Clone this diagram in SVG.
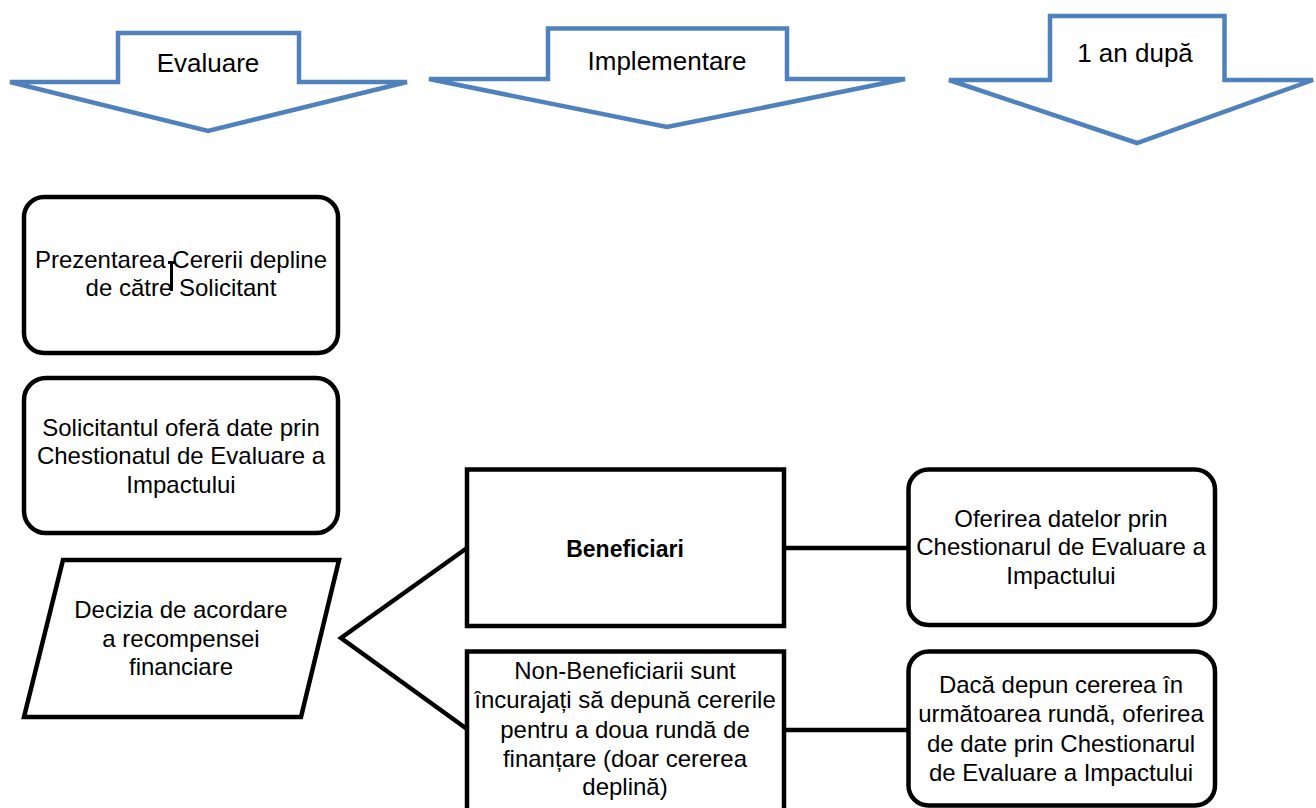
<svg xmlns="http://www.w3.org/2000/svg" width="1316" height="808" viewBox="0 0 1316 808">
<style>
.arrow{fill:#fff;stroke:#4F81BD;stroke-width:4.5;stroke-linejoin:miter}
.box{fill:#fff;stroke:#000;stroke-width:4.5}
.conn{fill:none;stroke:#000;stroke-width:4.5}
text{font-family:"Liberation Sans",Arial,sans-serif;fill:#000;text-anchor:middle}
.lbl{font-size:26px}
.t{font-size:24px}
.b{font-size:23px;font-weight:bold}
</style>
<rect width="1316" height="808" fill="#fff"/>
<g id="arrow-evaluare">
<path class="arrow" d="M118,33 H299 V82 H407 L208,131 L10,82 H118 Z"/>
<text class="lbl" x="208" y="72">Evaluare</text>
</g>
<g id="arrow-implementare">
<path class="arrow" d="M548,28.5 H787 V79 H905 L667,127 L429,79 H548 Z"/>
<text class="lbl" x="667" y="70">Implementare</text>
</g>
<g id="arrow-1an">
<path class="arrow" d="M1050,16 H1224.5 V80 H1313 L1137,143 L949,80 H1050 Z"/>
<text class="lbl" x="1135" y="62">1 an după</text>
</g>
<g id="connectors">
<polyline class="conn" points="467,548 341,638 467,729"/>
<line class="conn" x1="784" y1="548" x2="908" y2="548"/>
<line class="conn" x1="784" y1="730" x2="908" y2="730"/>
</g>
<g id="node-prezentarea">
<rect class="box" x="24" y="197" width="314" height="156" rx="20"/>
<text class="t" x="181" y="268">Prezentarea Cererii depline</text>
<text class="t" x="181" y="296">de către Solicitant</text>
<path d="M168,262.5 H175.5 M171.5,262 V291" stroke="#000" stroke-width="3" fill="none"/>
</g>
<g id="node-solicitantul">
<rect class="box" x="24" y="378" width="314" height="155" rx="22"/>
<text class="t" x="181" y="436">Solicitantul oferă date prin</text>
<text class="t" x="181" y="464">Chestionatul de Evaluare a</text>
<text class="t" x="181" y="493">Impactului</text>
</g>
<g id="node-decizia">
<polygon class="box" points="63,560 339,560 301,717 24,717"/>
<text class="t" x="181" y="618">Decizia de acordare</text>
<text class="t" x="181" y="647">a recompensei</text>
<text class="t" x="181" y="675">financiare</text>
</g>
<g id="node-beneficiari">
<rect class="box" x="467" y="469.5" width="317" height="156.5"/>
<text class="b" x="625" y="557">Beneficiari</text>
</g>
<g id="node-nonbeneficiari">
<rect class="box" x="467" y="651.5" width="317" height="170"/>
<text class="t" x="625" y="679">Non-Beneficiarii sunt</text>
<text class="t" x="625" y="708">încurajați să depună cererile</text>
<text class="t" x="625" y="738">pentru a doua rundă de</text>
<text class="t" x="625" y="767">finanțare (doar cererea</text>
<text class="t" x="625" y="795">deplină)</text>
</g>
<g id="node-oferirea">
<rect class="box" x="908.5" y="469.5" width="306.5" height="155.5" rx="20"/>
<text class="t" x="1061" y="527">Oferirea datelor prin</text>
<text class="t" x="1061" y="555">Chestionarul de Evaluare a</text>
<text class="t" x="1061" y="584">Impactului</text>
</g>
<g id="node-daca">
<rect class="box" x="908.5" y="651.5" width="306.5" height="154" rx="20"/>
<text class="t" x="1061" y="693">Dacă depun cererea în</text>
<text class="t" x="1061" y="722">următoarea rundă, oferirea</text>
<text class="t" x="1061" y="752">de date prin Chestionarul</text>
<text class="t" x="1061" y="781">de Evaluare a Impactului</text>
</g>
</svg>
